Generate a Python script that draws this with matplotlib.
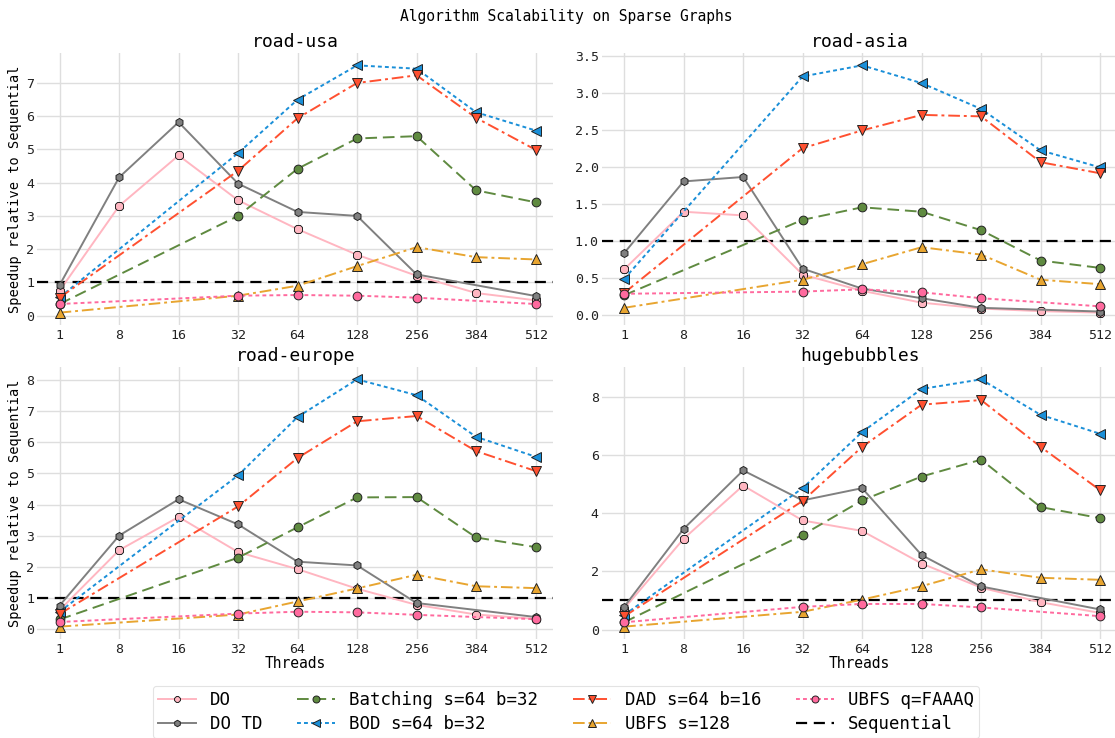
import numpy as np
import matplotlib
matplotlib.use("Agg")
import matplotlib.pyplot as plt
from matplotlib.ticker import MultipleLocator
from matplotlib.lines import Line2D

plt.rcParams['font.family'] = ['DejaVu Sans Mono']

nan = np.nan
threads = ['1', '8', '16', '32', '64', '128', '256', '384', '512']
series_names = ['DO', 'DO TD', 'Batching s=64 b=32', 'BOD s=64 b=32',
                'DAD s=64 b=16', 'UBFS s=128', 'UBFS q=FAAAQ']
graphs = ['road-usa', 'road-asia', 'road-europe', 'hugebubbles']

# road-usa
usa_do = [0.75, 3.30, 4.82, 3.47, 2.60, 1.83, 1.20, 0.68, 0.46]
usa_dotd = [0.92, 4.16, 5.82, 3.97, 3.12, 3.00, 1.24, nan, 0.59]
usa_batch = [0.35, nan, nan, 3.00, 4.42, 5.33, 5.40, 3.77, 3.41]
usa_bod = [0.55, nan, nan, 4.89, 6.50, 7.53, 7.43, 6.12, 5.57]
usa_dad = [0.54, nan, nan, 4.36, 5.94, 7.00, 7.23, 5.95, 4.99]
usa_ubfs_s = [0.09, nan, nan, 0.60, 0.90, 1.49, 2.06, 1.76, 1.69]
usa_ubfs_q = [0.35, nan, nan, 0.60, 0.62, 0.60, 0.54, nan, 0.35]

# road-asia
asia_do = [0.62, 1.40, 1.35, 0.55, 0.33, 0.17, 0.09, 0.055, 0.035]
asia_dotd = [0.84, 1.81, 1.87, 0.63, 0.36, 0.23, 0.10, nan, 0.05]
asia_batch = [0.27, nan, nan, 1.29, 1.46, 1.40, 1.15, 0.74, 0.64]
asia_bod = [0.49, nan, nan, 3.23, 3.38, 3.14, 2.79, 2.23, 2.00]
asia_dad = [0.30, nan, nan, 2.26, 2.50, 2.71, 2.69, 2.07, 1.92]
asia_ubfs_s = [0.10, nan, nan, 0.48, 0.69, 0.92, 0.82, 0.48, 0.42]
asia_ubfs_q = [0.29, nan, nan, 0.32, 0.35, 0.31, 0.23, nan, 0.12]

# road-europe
eu_do = [0.60, 2.53, 3.60, 2.47, 1.92, 1.29, 0.77, 0.46, 0.32]
eu_dotd = [0.75, 3.00, 4.17, 3.36, 2.16, 2.04, 0.83, nan, 0.38]
eu_batch = [0.30, nan, nan, 2.29, 3.27, 4.23, 4.24, 2.94, 2.63]
eu_bod = [0.55, nan, nan, 4.94, 6.82, 8.03, 7.52, 6.18, 5.54]
eu_dad = [0.48, nan, nan, 3.94, 5.50, 6.68, 6.85, 5.72, 5.08]
eu_ubfs_s = [0.07, nan, nan, 0.46, 0.88, 1.30, 1.74, 1.37, 1.31]
eu_ubfs_q = [0.22, nan, nan, 0.49, 0.55, 0.53, 0.45, nan, 0.31]

# hugebubbles
hb_do = [0.72, 3.12, 4.95, 3.75, 3.39, 2.27, 1.44, 0.94, 0.57]
hb_dotd = [0.78, 3.46, 5.47, 4.44, 4.86, 2.56, 1.48, nan, 0.69]
hb_batch = [0.25, nan, nan, 3.25, 4.44, 5.26, 5.84, 4.21, 3.83]
hb_bod = [0.50, nan, nan, 4.86, 6.79, 8.27, 8.60, 7.38, 6.73]
hb_dad = [0.45, nan, nan, 4.42, 6.28, 7.73, 7.89, 6.28, 4.79]
hb_ubfs_s = [0.10, nan, nan, 0.61, 1.03, 1.49, 2.07, 1.78, 1.71]
hb_ubfs_q = [0.25, nan, nan, 0.78, 0.88, 0.88, 0.76, nan, 0.46]

data = {
    'road-usa': [usa_do, usa_dotd, usa_batch, usa_bod, usa_dad, usa_ubfs_s, usa_ubfs_q],
    'road-asia': [asia_do, asia_dotd, asia_batch, asia_bod, asia_dad, asia_ubfs_s, asia_ubfs_q],
    'road-europe': [eu_do, eu_dotd, eu_batch, eu_bod, eu_dad, eu_ubfs_s, eu_ubfs_q],
    'hugebubbles': [hb_do, hb_dotd, hb_batch, hb_bod, hb_dad, hb_ubfs_s, hb_ubfs_q],
}
ytick_step = {'road-usa': 1, 'road-asia': 0.5, 'road-europe': 1, 'hugebubbles': 2}

styles = [
    dict(color='#ffb6c1', ls='-', marker='8', ms=5.8),
    dict(color='#808080', ls='-', marker='h', ms=5.8),
    dict(color='#5f8a40', ls=(0, (6, 3)), marker='o', ms=6.3),
    dict(color='#1a8fd8', ls=(0, (2, 1.6)), marker='<', ms=6.8),
    dict(color='#ff5030', ls=(0, (6, 2, 1.5, 2)), marker='v', ms=6.8),
    dict(color='#e8a530', ls=(0, (6, 2, 1.5, 2)), marker='^', ms=6.8),
    dict(color='#ff6a9e', ls=(0, (2, 1.6)), marker='o', ms=6.3),
]

W, H = 1115, 738
fig = plt.figure(figsize=(W / 100, H / 100), dpi=100)

spacing = 59.5
xlo, xhi = -0.38, 8.3
aw = (xhi - xlo) * spacing
lefts = [37, 601.5]
tops = [53, 367]
ah = 272

x = np.arange(len(threads))
axes = []
for i, g in enumerate(graphs):
    r, c = divmod(i, 2)
    ax = fig.add_axes([lefts[c] / W, 1 - (tops[r] + ah) / H, aw / W, ah / H])
    axes.append(ax)
    for vals, st, name in zip(data[g], styles, series_names):
        v = np.array(vals, dtype=float)
        m = ~np.isnan(v)
        ax.plot(x[m], v[m], color=st['color'], linestyle=st['ls'], lw=1.4,
                marker=st['marker'], ms=st['ms'], markerfacecolor=st['color'],
                markeredgecolor='#222222', markeredgewidth=0.7, label=name, zorder=3)
    ax.axhline(1.0, color='black', linestyle=(0, (5, 3)), lw=1.6, zorder=2)
    ax.set_xlim(xlo, xhi)
    ax.set_xticks(x)
    ax.set_xticklabels(threads)
    ax.yaxis.set_major_locator(MultipleLocator(ytick_step[g]))
    ax.grid(True, color='#dedede', lw=1.0)
    ax.set_axisbelow(True)
    for s in ax.spines.values():
        s.set_visible(False)
    ax.tick_params(axis='x', length=0, labelsize=9.5, pad=3, colors='#222222')
    ax.tick_params(axis='y', length=0, labelsize=9.5, pad=2, colors='#222222')
    ax.set_title(g, fontsize=13, pad=4)
    if c == 0:
        ax.set_ylabel('Speedup relative to Sequential', fontsize=9.8, labelpad=3)
    if r == 1:
        ax.set_xlabel('Threads', fontsize=10.5, labelpad=0)

fig.suptitle('Algorithm Scalability on Sparse Graphs', fontsize=10.5, y=1 - 16 / H, x=566 / W, va='center')

handles, labels = axes[0].get_legend_handles_labels()
seq = Line2D([], [], color='black', linestyle=(0, (5, 3)), lw=1.6)
handles.append(seq)
labels.append('Sequential')
leg = fig.legend(handles, labels, loc='lower center', bbox_to_anchor=(566 / W, -0.012),
                 ncol=4, fontsize=12.5, frameon=True, fancybox=True, markerscale=0.8,
                 edgecolor='#dddddd', handlelength=2.2, columnspacing=2.0,
                 handletextpad=0.8, borderpad=0.3, labelspacing=0.35)
leg.get_frame().set_linewidth(0.8)

fig.savefig('out.png', dpi=100)
